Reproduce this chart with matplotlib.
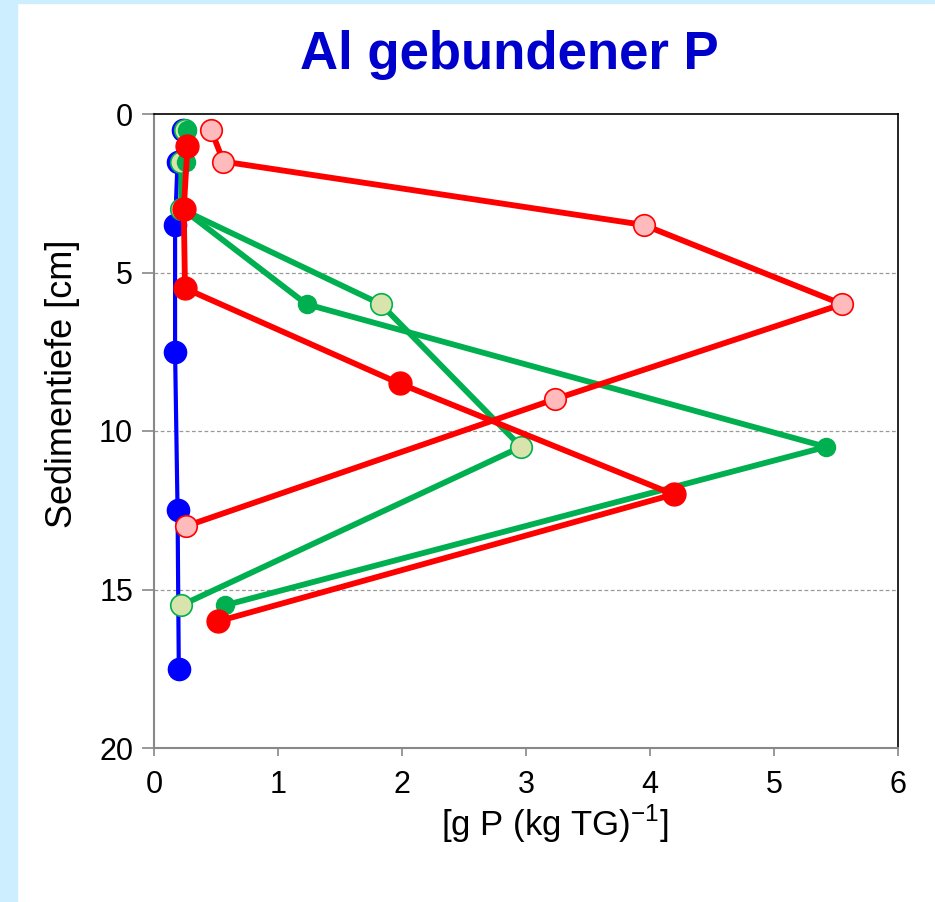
import matplotlib
matplotlib.use("Agg")
import matplotlib.pyplot as plt
from matplotlib.patches import Rectangle

plt.rcParams['font.family'] = ['Liberation Sans', 'DejaVu Sans']

# Data (x = g P / kg TG, y = depth cm)
blue_x = [0.23, 0.19, 0.17, 0.17, 0.19, 0.20]
blue_y = [0.5, 1.5, 3.5, 7.5, 12.5, 17.5]

lgreen_x = [0.25, 0.22, 0.22, 1.83, 2.96, 0.22]
lgreen_y = [0.5, 1.5, 3.0, 6.0, 10.5, 15.5]

dgreen_x = [0.27, 0.26, 0.23, 1.23, 5.42, 0.57]
dgreen_y = [0.5, 1.5, 3.0, 6.0, 10.5, 15.5]

pink_x = [0.46, 0.56, 3.95, 5.55, 3.23, 0.26]
pink_y = [0.5, 1.5, 3.5, 6.0, 9.0, 13.0]

red_x = [0.27, 0.24, 0.25, 1.98, 4.19, 0.52]
red_y = [1.0, 3.0, 5.5, 8.5, 12.0, 16.0]

fig = plt.figure(figsize=(9.35, 9.02), dpi=100)
fig.patch.set_facecolor('white')
fig.patches.append(Rectangle((0, 0), 17/935, 1, transform=fig.transFigure, color='#CCEEFF', zorder=0))
fig.patches.append(Rectangle((0, 1-3/902), 1, 3/902, transform=fig.transFigure, color='#CCEEFF', zorder=0))

ax = fig.add_axes([154/935, 1-748/902, (898-154)/935, (748-114)/902])

ax.plot(blue_x, blue_y, color='#0000FF', lw=3, marker='o', ms=16, mfc='#0000FF', mec='#0000FF', zorder=3)
ax.plot(lgreen_x, lgreen_y, color='#00B050', lw=4.2, marker='o', ms=15.5, mfc='#D8E4AC', mec='#00B050', mew=1.2, zorder=4)
ax.plot(dgreen_x, dgreen_y, color='#00B050', lw=4.2, marker='o', ms=13, mfc='#00B050', mec='#00B050', zorder=5)
ax.plot(pink_x, pink_y, color='#FF0000', lw=4.2, marker='o', ms=15.5, mfc='#FFBBBB', mec='#FF0000', mew=1.2, zorder=6)
ax.plot(red_x, red_y, color='#FF0000', lw=4.2, marker='o', ms=16.5, mfc='#FF0000', mec='#FF0000', zorder=7)

ax.set_xlim(0, 6)
ax.set_ylim(20, 0)
ax.set_xticks(range(0, 7))
ax.set_yticks([0, 5, 10, 15, 20])
for yv in [5, 10, 15]:
    ax.axhline(yv, color='#999999', lw=0.9, ls=(0, (3, 2)), zorder=1)

for s in ['left', 'bottom']:
    ax.spines[s].set_color('#888888')
    ax.spines[s].set_linewidth(1.5)
for s in ['top', 'right']:
    ax.spines[s].set_color('black')
    ax.spines[s].set_linewidth(1.2)
ax.tick_params(axis='both', direction='out', color='#888888', width=1.2, labelsize=22)
ax.tick_params(axis='y', length=9, pad=6)
ax.tick_params(axis='x', length=6, pad=10)

fig.text(62/935, 1-384/902, 'Sedimentiefe [cm]', rotation=90, ha='center', va='center', fontsize=26)
fig.text(555/935, 1-824/902, '[g P (kg TG)$^{\\mathregular{-1}}$]', ha='center', va='center', fontsize=25)

fig.text(0.545, 1-55/902, 'Al gebundener P', ha='center', va='center',
         fontsize=38, fontweight='bold', color='#0000CC')

fig.savefig('out.png', dpi=100, facecolor=fig.get_facecolor())
